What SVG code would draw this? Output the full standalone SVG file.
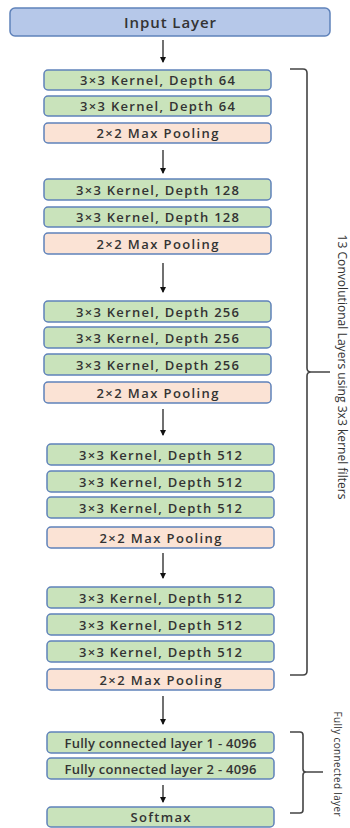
<svg xmlns="http://www.w3.org/2000/svg" width="350" height="828" viewBox="0 0 350 828">
<style>
.box{stroke:#5f82ba;stroke-width:1.5}
.in{fill:#b6c8e9}
.cv{fill:#c9e3bb}
.pl{fill:#fbe3d5}
.t{font-family:"Open Sans","Liberation Sans",sans-serif;font-size:13px;font-weight:600;fill:#333;text-anchor:middle;dominant-baseline:central}
.ti{font-size:15px}
.ar{stroke:#111;stroke-width:1.2;fill:none}
.br{stroke:#444;stroke-width:1.6;fill:none;stroke-linejoin:round}
.lb{font-family:"Open Sans","Liberation Sans",sans-serif;fill:#333;text-anchor:middle;dominant-baseline:central}
</style>
<defs>
<marker id="ah" markerWidth="6" markerHeight="6" refX="5" refY="3" orient="auto" markerUnits="userSpaceOnUse">
<path d="M0,0 L6,3 L0,6 Z" fill="#111"/>
</marker>
</defs>
<rect width="350" height="828" fill="#fff"/>
<g id="input"><rect class="box in" x="10" y="8" width="320" height="28" rx="5"/><text class="t ti" x="170" y="22" textLength="92">Input Layer</text></g>
<g id="c1"><rect class="box cv" x="44" y="70" width="227" height="20" rx="4"/><text class="t" x="157.5" y="80" textLength="155">3×3 Kernel, Depth 64</text></g>
<g id="c2"><rect class="box cv" x="44" y="96" width="227" height="20" rx="4"/><text class="t" x="157.5" y="106" textLength="155">3×3 Kernel, Depth 64</text></g>
<g id="p1"><rect class="box pl" x="44" y="123" width="227" height="20" rx="4"/><text class="t" x="157.5" y="133" textLength="122">2×2 Max Pooling</text></g>
<g id="c3"><rect class="box cv" x="44" y="179" width="227" height="21" rx="4"/><text class="t" x="157.5" y="189.5" textLength="163">3×3 Kernel, Depth 128</text></g>
<g id="c4"><rect class="box cv" x="44" y="207" width="227" height="20" rx="4"/><text class="t" x="157.5" y="217" textLength="163">3×3 Kernel, Depth 128</text></g>
<g id="p2"><rect class="box pl" x="44" y="233" width="227" height="21" rx="4"/><text class="t" x="157.5" y="243.5" textLength="122">2×2 Max Pooling</text></g>
<g id="c5"><rect class="box cv" x="44" y="301" width="227" height="21" rx="4"/><text class="t" x="157.5" y="311.5" textLength="163">3×3 Kernel, Depth 256</text></g>
<g id="c6"><rect class="box cv" x="44" y="327" width="227" height="21" rx="4"/><text class="t" x="157.5" y="337.5" textLength="163">3×3 Kernel, Depth 256</text></g>
<g id="c7"><rect class="box cv" x="44" y="354" width="227" height="21" rx="4"/><text class="t" x="157.5" y="364.5" textLength="163">3×3 Kernel, Depth 256</text></g>
<g id="p3"><rect class="box pl" x="44" y="382" width="227" height="21" rx="4"/><text class="t" x="157.5" y="392.5" textLength="122">2×2 Max Pooling</text></g>
<g id="c8"><rect class="box cv" x="47" y="444" width="227" height="21" rx="4"/><text class="t" x="160.5" y="454.5" textLength="163">3×3 Kernel, Depth 512</text></g>
<g id="c9"><rect class="box cv" x="47" y="471" width="227" height="21" rx="4"/><text class="t" x="160.5" y="481.5" textLength="163">3×3 Kernel, Depth 512</text></g>
<g id="c10"><rect class="box cv" x="47" y="497" width="227" height="21" rx="4"/><text class="t" x="160.5" y="507.5" textLength="163">3×3 Kernel, Depth 512</text></g>
<g id="p4"><rect class="box pl" x="47" y="527" width="227" height="21" rx="4"/><text class="t" x="160.5" y="537.5" textLength="122">2×2 Max Pooling</text></g>
<g id="c11"><rect class="box cv" x="47" y="587" width="227" height="21" rx="4"/><text class="t" x="160.5" y="597.5" textLength="163">3×3 Kernel, Depth 512</text></g>
<g id="c12"><rect class="box cv" x="47" y="614" width="227" height="21" rx="4"/><text class="t" x="160.5" y="624.5" textLength="163">3×3 Kernel, Depth 512</text></g>
<g id="c13"><rect class="box cv" x="47" y="641" width="227" height="21" rx="4"/><text class="t" x="160.5" y="651.5" textLength="163">3×3 Kernel, Depth 512</text></g>
<g id="p5"><rect class="box pl" x="47" y="669" width="227" height="21" rx="4"/><text class="t" x="160.5" y="679.5" textLength="122">2×2 Max Pooling</text></g>
<g id="fc1"><rect class="box cv" x="47" y="732" width="227" height="21" rx="4"/><text class="t" x="160.5" y="742.5" textLength="192">Fully connected layer 1 - 4096</text></g>
<g id="fc2"><rect class="box cv" x="47" y="758" width="227" height="21" rx="4"/><text class="t" x="160.5" y="768.5" textLength="192">Fully connected layer 2 - 4096</text></g>
<g id="softmax"><rect class="box cv" x="47" y="807" width="227" height="20" rx="4"/><text class="t" x="160.5" y="817" textLength="60">Softmax</text></g>
<g id="connectors">
<line class="ar" x1="163" y1="40" x2="163" y2="62" marker-end="url(#ah)"/>
<line class="ar" x1="163" y1="150" x2="163" y2="173" marker-end="url(#ah)"/>
<line class="ar" x1="163" y1="263" x2="163" y2="292" marker-end="url(#ah)"/>
<line class="ar" x1="163" y1="409" x2="163" y2="435" marker-end="url(#ah)"/>
<line class="ar" x1="163" y1="553" x2="163" y2="578" marker-end="url(#ah)"/>
<line class="ar" x1="163" y1="696" x2="163" y2="724" marker-end="url(#ah)"/>
<line class="ar" x1="163" y1="785" x2="163" y2="802" marker-end="url(#ah)"/>
</g>
<g id="conv-brace">
<path class="br" d="M290,69 L303,69 Q307,69 307,73 L307,368 Q307,372 311,372 L330,372 M311,372 Q307,372 307,376 L307,671 Q307,675 303,675 L290,675"/>
<text class="lb" font-size="12" transform="translate(342,367) rotate(90)" textLength="265">13 Convolutional Layers using 3x3 kernel filters</text>
</g>
<g id="fc-brace">
<path class="br" d="M290,732 L300,732 Q303,732 303,735 L303,769 Q303,772 306,772 L323,772 M306,772 Q303,772 303,775 L303,810 Q303,813 300,813 L290,813"/>
<text class="lb" font-size="10" transform="translate(338,764) rotate(90)" textLength="105">Fully connected layer</text>
</g>
</svg>
